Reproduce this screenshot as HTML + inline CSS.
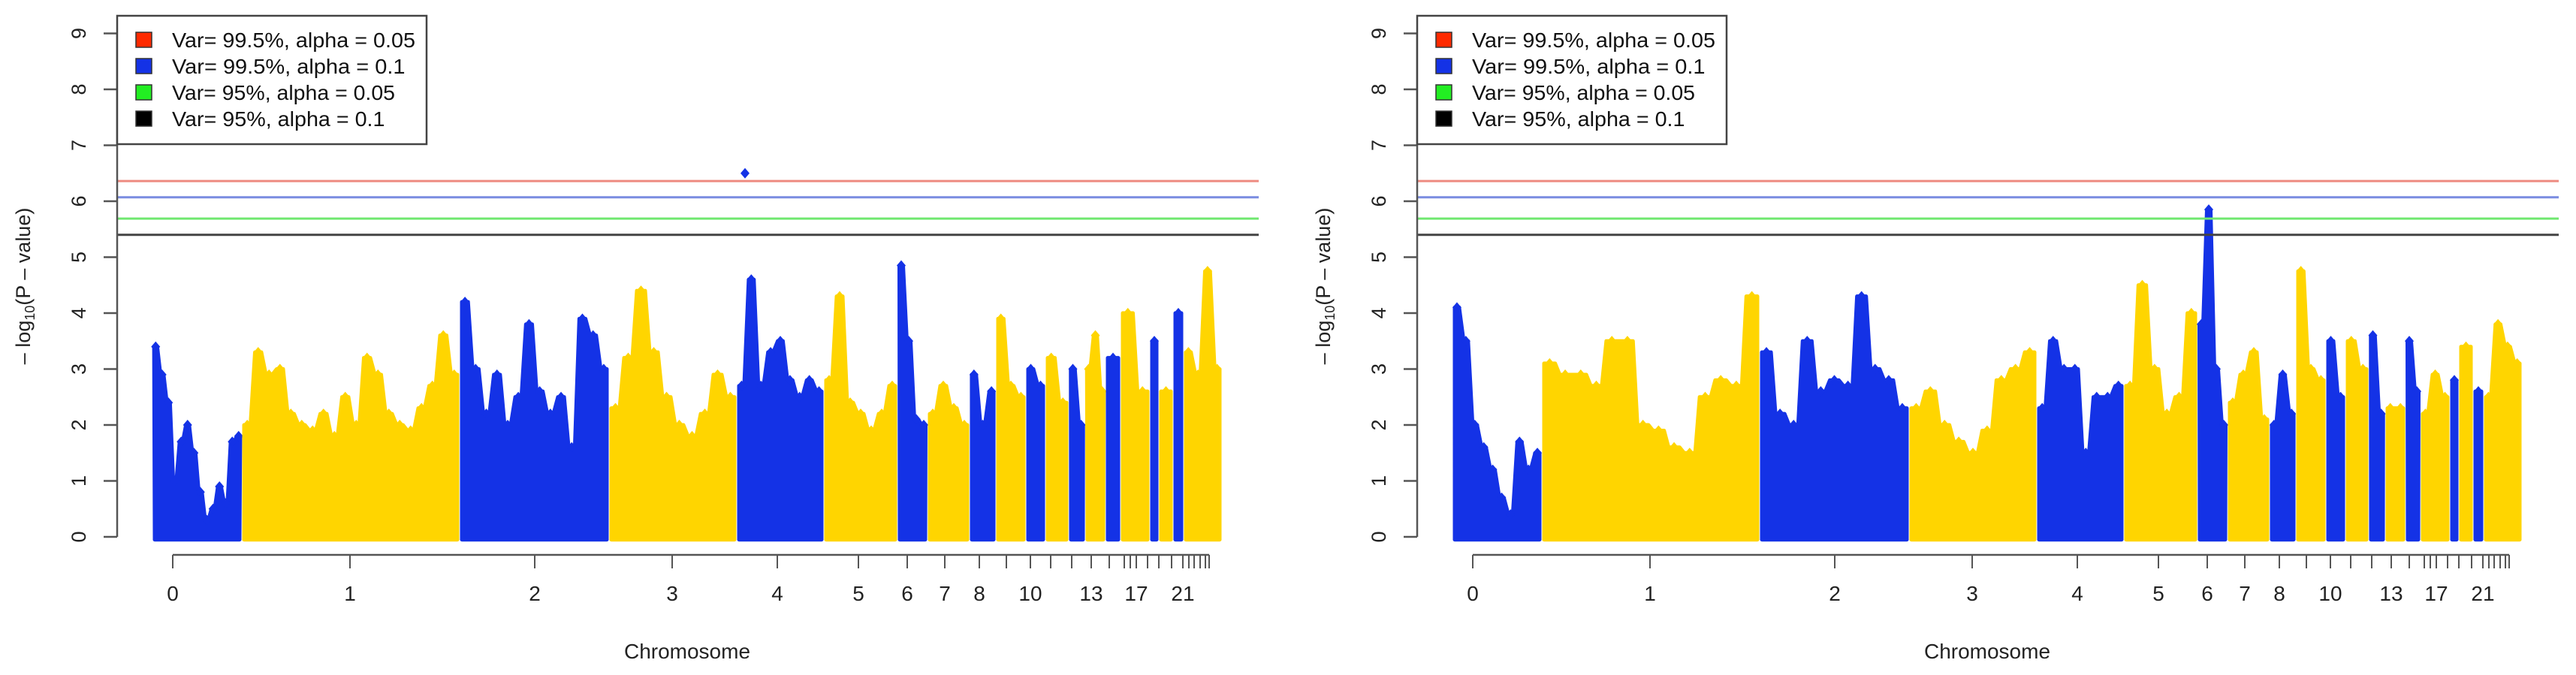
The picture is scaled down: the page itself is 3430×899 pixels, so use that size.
<!DOCTYPE html>
<html><head><meta charset="utf-8"><style>
html,body{margin:0;padding:0;background:#fff;}
svg{display:block;font-family:"Liberation Sans",sans-serif;}
</style></head><body>
<svg id="chart" width="3430" height="899" viewBox="0 0 3430 899"></svg>
<script>
// ---------- data ----------
const segBounds = [203,322,612,811,981,1097,1195,1235,1291,1326,1366,1392,1423,1445,1472,1492,1531,1543,1562,1576,1627];
const segColors = ["#1432e6","#ffd500"];
const leftProfiles = [
 [3.4,2.9,2.4,1.0,1.7,2.0,1.5,0.8,0.3,0.5,0.9,0.6,1.7,1.8],
 [2.0,3.3,2.9,3.0,2.2,2.0,1.9,2.2,1.8,2.5,2.0,3.2,2.9,2.2,2.0,1.9,2.3,2.7,3.6,2.9],
 [4.2,3.0,2.2,2.9,2.0,2.5,3.8,2.6,2.2,2.5,1.6,3.9,3.6,3.0],
 [2.3,3.2,4.4,3.3,2.5,2.0,1.8,2.2,2.9,2.5],
 [2.7,4.6,2.7,3.3,3.5,2.8,2.5,2.8,2.6],
 [2.8,4.3,2.4,2.2,1.9,2.2,2.7],
 [4.85,3.5,2.1,2.0],
 [2.2,2.7,2.3,2.0],
 [2.9,2.0,2.6],
 [3.9,2.7,2.5],
 [3.0,2.7],
 [3.2,2.4],
 [3.0,2.0],
 [3.0,3.6,2.6],
 [3.2],
 [4.0,2.6],
 [3.5],
 [2.6],
 [4.0],
 [3.3,2.9,4.75,3.0]
];
const rightProfiles = [
 [4.1,3.5,2.0,1.6,1.2,0.7,0.4,1.7,1.2,1.5],
 [3.1,2.9,2.9,2.7,3.5,3.5,2.0,1.9,1.6,1.5,2.5,2.8,2.7,4.3],
 [3.3,2.2,2.0,3.5,2.6,2.8,2.7,4.3,3.0,2.8,2.3],
 [2.3,2.6,2.0,1.7,1.5,1.9,2.8,3.0,3.3],
 [2.3,3.5,3.0,3.0,1.5,2.5,2.5,2.7],
 [2.7,4.5,3.0,2.2,2.5,4.0],
 [3.8,5.85,3.0,2.0],
 [2.4,2.9,3.3,2.1],
 [2.0,2.9,2.2],
 [4.75,3.0,2.8],
 [3.5,2.5],
 [3.5,3.0],
 [3.6,2.2],
 [2.3,2.3],
 [3.5,2.6],
 [2.2,2.9,2.5],
 [2.8],
 [3.4],
 [2.6],
 [2.5,3.8,3.4,3.1]
];
const leftPeakPos = [992];
const leftPeakVal = [6.5];
const rightPeakPos = [];
const rightPeakVal = [];
const thresholds = [6.36,6.07,5.69,5.40];
const thresholdColors = ["#ee8a80","#7a8ce0","#70e870","#444444"];
const legendLabels = ["Var= 99.5%, alpha = 0.05","Var= 99.5%, alpha = 0.1","Var= 95%, alpha = 0.05","Var= 95%, alpha = 0.1"];
const legendColors = ["#ff2a00","#1432e6","#22ee22","#000000"];
const yTicks = [0,1,2,3,4,5,6,7,8,9];
const xTickPos = [230,466,712,895,1035,1143,1208,1258,1304,1340,1372,1399,1427,1453,1477,1497,1505,1513,1528,1543,1560,1575,1583,1590,1598,1605,1610];
const xTickLabels = ["0","1","2","3","4","5","6","7","8","","10","","","13","","","","17","","","","21","","","","",""];

// ---------- scales ----------
const NS="http://www.w3.org/2000/svg";
const svg=document.getElementById('chart');
function yS(v){return 715-74.5*v;}
function mk(tag,attrs,parent){const e=document.createElementNS(NS,tag);for(const k in attrs)e.setAttribute(k,attrs[k]);(parent||svg).appendChild(e);return e;}

function drawPanel(ox, profiles, peakPos, peakVal, key){
  const g=mk('g',{transform:`translate(${ox},0)`});
  
  
  profiles.forEach((prof,i)=>{
    const x0=segBounds[i], x1=segBounds[i+1], n=prof.length, w=(x1-x0)/n;
    const col=segColors[i%2];
    let d=`M${x0+3},${yS(-0.05)}`;
    prof.forEach((v,j)=>{const xa=x0+w*j, xb=x0+w*(j+1);
      d+=` L${xa+Math.min(3,w/4)},${yS(v)} L${xb-Math.min(3,w/4)},${yS(v)}`;});
    d+=` L${x1-3},${yS(-0.05)} Z`;
    const p=mk('path',{d:d,fill:col,stroke:col,'stroke-width':5,'stroke-linejoin':'round'},g);
    
    
    prof.forEach((v,j)=>{const cx=x0+w*(j+0.5), cy=yS(v);
      const dm=mk('path',{d:`M${cx},${cy-7} L${cx+6},${cy} L${cx},${cy+7} L${cx-6},${cy} Z`,fill:col},g);
      
      
    });
  });
  peakPos.forEach((px,i)=>{const cy=yS(peakVal[i]);
    const dm=mk('path',{d:`M${px},${cy-7} L${px+6},${cy} L${px},${cy+7} L${px-6},${cy} Z`,fill:segColors[0]},g);
    
    
  });
  thresholds.forEach((t,i)=>{
    const l=mk('line',{x1:156,x2:1676,y1:yS(t),y2:yS(t),stroke:thresholdColors[i],'stroke-width':3},g);
    
    
  });
  const ya=mk('line',{x1:156,x2:156,y1:yS(0),y2:yS(9),stroke:'#555','stroke-width':2.5},g);
  
  
  yTicks.forEach(t=>{
    mk('line',{x1:138,x2:156,y1:yS(t),y2:yS(t),stroke:'#555','stroke-width':2.5},g);
    const tx=mk('text',{x:0,y:0,transform:`translate(114,${yS(t)}) rotate(-90)`,'text-anchor':'middle','font-size':27,fill:'#222'},g);
    tx.textContent=t;
    
    
  });
  const yt=mk('text',{x:0,y:0,transform:'translate(40,381) rotate(-90)','text-anchor':'middle','font-size':27,fill:'#222'},g);
  yt.innerHTML='– log<tspan font-size="18" dy="6">10</tspan><tspan dy="-6">(P – value)</tspan>';
  
  
  const xa=mk('line',{x1:xTickPos[0],x2:xTickPos[xTickPos.length-1],y1:739,y2:739,stroke:'#555','stroke-width':2.5},g);
  
  
  xTickPos.forEach((p,i)=>{
    mk('line',{x1:p,x2:p,y1:739,y2:757,stroke:'#555','stroke-width':2},g);
    if(xTickLabels[i]){
      const tx=mk('text',{x:p,y:800,'text-anchor':'middle','font-size':28,fill:'#222'},g);
      tx.textContent=xTickLabels[i];
      
      
    }
  });
  const xt=mk('text',{x:915,y:877,'text-anchor':'middle','font-size':28,fill:'#222'},g);
  xt.textContent='Chromosome';
  
  
  const lg=mk('g',{},g);
  
  
  mk('rect',{x:156,y:21,width:412,height:171,fill:'#fff',stroke:'#444','stroke-width':2.5},lg);
  legendLabels.forEach((lab,i)=>{
    const cy=53+35*i;
    const sw=mk('rect',{x:181,y:cy-10,width:21,height:20,fill:legendColors[i],stroke:'#333','stroke-width':1.5},lg);
    
    
    const tx=mk('text',{x:229,y:cy+10,'font-size':28,fill:'#111',textLength:lab.length*13.5,lengthAdjust:'spacingAndGlyphs'},lg);
    tx.textContent=lab;
    
    
  });
}
drawPanel(0,leftProfiles,leftPeakPos,leftPeakVal,'left');
drawPanel(1731,rightProfiles,rightPeakPos,rightPeakVal,'right');
</script>
</body></html>
